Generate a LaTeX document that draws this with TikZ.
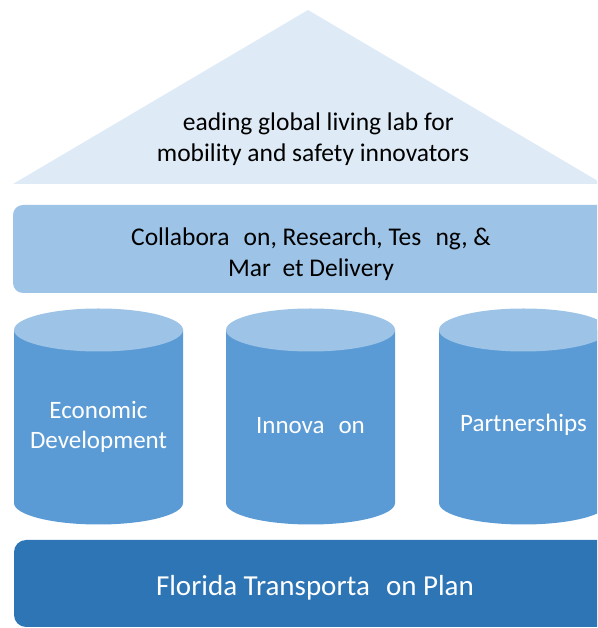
\documentclass[tikz,border=0pt]{standalone}
\usepackage{fontspec}
\setmainfont{Carlito}
\definecolor{roofc}{HTML}{DEEBF7}
\definecolor{bandc}{HTML}{9DC3E6}
\definecolor{pillarc}{HTML}{5B9BD5}
\definecolor{basec}{HTML}{2E75B6}
\begin{document}
\begin{tikzpicture}[x=1pt,y=1pt,
  lbl/.style={align=center,inner sep=0pt,font=\fontsize{25.5}{30.5}\selectfont},
  wlbl/.style={lbl,text=white,font=\fontsize{25}{30}\selectfont}]
\useasboundingbox (0,0) rectangle (597,628);
\clip (0,0) rectangle (597,628);
% roof
\fill[roofc] (13,444) -- (308,618) -- (603,444) -- cycle;
\node[lbl] (roof) at (313,489) {\phantom{L}eading global living lab for\\mobility and safety innovators};
% band
\fill[bandc,rounded corners=10pt] (13,335) rectangle (620,423);
\node[lbl] (band) at (311,374) {Collabora\phantom{ti}on, Research, Tes\phantom{ti}ng, \&\\Mar\phantom{k}et Delivery};
% pillars
\foreach \cx/\nm in {98.5/p1,310.5/p2,523.5/p3}{
  \fill[pillarc] (\cx-84.5,298) -- (\cx-84.5,125)
     arc[start angle=180,end angle=360,x radius=84.5pt,y radius=21.5pt]
     -- (\cx+84.5,298) -- cycle;
  \fill[bandc] (\cx,298) ellipse[x radius=84.5pt,y radius=21.5pt];
  \coordinate (\nm) at (\cx,203);
}
\node[wlbl] (econ) at ([yshift=-2pt]p1) {Economic\\Development};
\node[wlbl] (innov) at (p2) {Innova\phantom{ti}on};
\node[wlbl] (partn) at (p3) {Partnerships};
% base
\fill[basec,rounded corners=12pt] (14,1) rectangle (630,88);
\node[lbl,text=white,font=\fontsize{29}{34}\selectfont] (base) at (315,40) {Florida Transporta\phantom{ti}on Plan};
\end{tikzpicture}
\end{document}
